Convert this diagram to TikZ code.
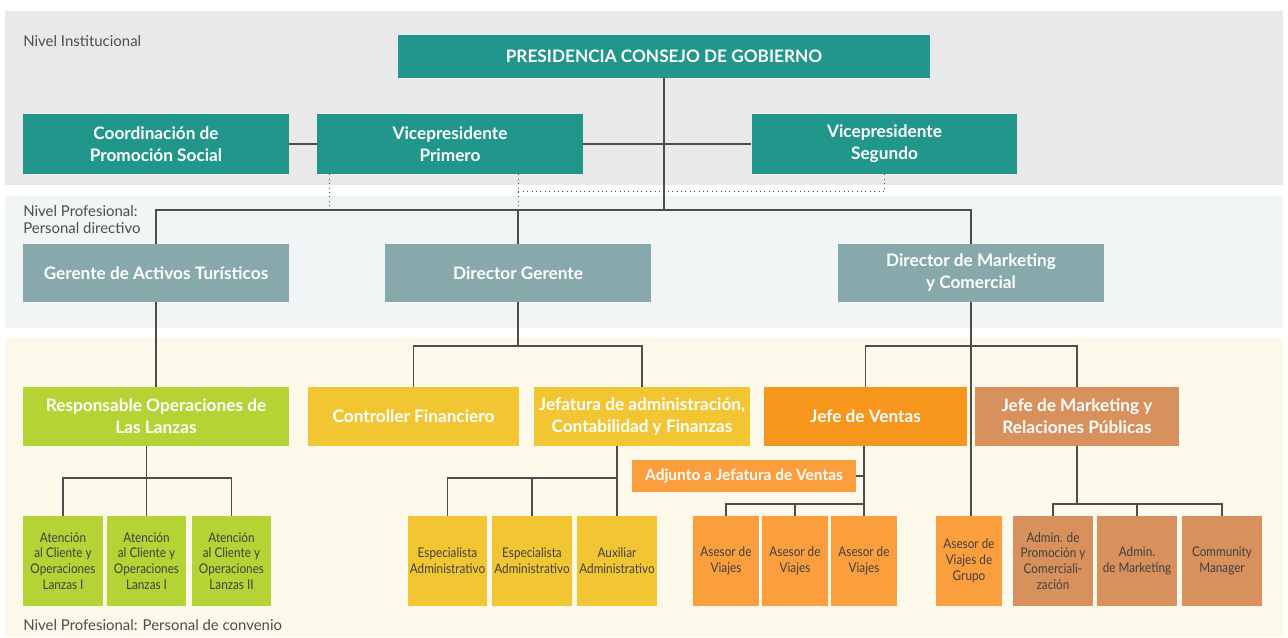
\documentclass[tikz,border=0pt]{standalone}
\usepackage{fontspec}
\setmainfont{Lato}
\newfontfamily\stafffont{Lato}[FakeStretch=0.88]
\usetikzlibrary{calc, positioning}

\definecolor{tealbox}{HTML}{21968B}
\definecolor{slatebox}{HTML}{87A9AC}
\definecolor{limebox}{HTML}{B5D334}
\definecolor{goldbox}{HTML}{F2C633}
\definecolor{orangebox}{HTML}{F7961D}
\definecolor{peachbox}{HTML}{FB9E3E}
\definecolor{claybox}{HTML}{D8915C}
\definecolor{grayband}{HTML}{E9E9E9}
\definecolor{blueband}{HTML}{F1F5F6}
\definecolor{creamband}{HTML}{FCF8EA}
\definecolor{linegray}{HTML}{4D4D4D}
\definecolor{stafftext}{HTML}{404040}

\begin{document}
\begin{tikzpicture}[x=0.02cm, y=-0.02cm,
        box/.style={rectangle, inner sep=0pt, align=center, text=white, font=\bfseries\fontsize{9.8}{12.5}\selectfont},
        inst/.style={box, fill=tealbox, minimum width=5.32cm, minimum height=1.2cm},
        dir/.style={box, fill=slatebox, minimum width=5.32cm, minimum height=1.16cm},
        head/.style={box, minimum height=1.18cm},
        staff/.style={rectangle, inner sep=0pt, align=center, text=stafftext, font=\stafffont\fontsize{7.6}{9}\selectfont, minimum height=1.8cm},
        tag/.style={inner sep=0pt, align=left, text=linegray, font=\fontsize{8.5}{9.5}\selectfont},
        link/.style={draw=linegray, line width=0.7pt},
        dots/.style={draw=linegray, line width=0.5pt, dotted}]
        \useasboundingbox (0,0) rectangle (1288,637);

        % bands
        \fill[grayband] (5,11) rectangle (1283,185);
        \fill[blueband] (5,196) rectangle (1283,328);
        \fill[creamband] (5,338) rectangle (1283,637);
        \node[tag, anchor=base west] (tinst) at (23,46) {Nivel Institucional};
        \node[tag, anchor=north west] (tdir) at (23,205) {Nivel Profesional:\\Personal directivo};
        \node[tag, anchor=base west] (tconv) at (23,630) {Nivel Profesional: Personal de convenio};

        % level 1
        \node[box, fill=tealbox, minimum width=10.64cm, minimum height=0.86cm] (pres) at (664,56.5) {PRESIDENCIA CONSEJO DE GOBIERNO};
        \node[inst] (coord) at (156,144) {Coordinación de\\Promoción Social};
        \node[inst] (vp1) at (450,144) {Vicepresidente\\Primero};
        \node[inst] (vp2) at (884.5,144) {Vicepresidente\\Segundo};

        % level 2
        \node[dir] (gerente) at (156,273) {Gerente de Activos Turísticos};
        \node[dir] (dirger) at (518,273) {Director Gerente};
        \node[dir] (dirmkt) at (971,273) {Director de Marketing\\y Comercial};

        % level 3
        \node[head, fill=limebox, minimum width=5.32cm] (resp) at (156,416.5) {Responsable Operaciones de\\Las Lanzas};
        \node[head, fill=goldbox, minimum width=4.22cm] (controller) at (413.5,416.5) {Controller Financiero};
        \node[head, fill=goldbox, minimum width=4.32cm] (jefatura) at (642,416.5) {Jefatura de administración,\\Contabilidad y Finanzas};
        \node[head, fill=orangebox, minimum width=4.06cm] (ventas) at (865.5,416.5) {Jefe de Ventas};
        \node[head, fill=claybox, minimum width=4.08cm] (jefemkt) at (1077,416.5) {Jefe de Marketing y\\Relaciones Públicas};
        \node[box, fill=peachbox, minimum width=4.48cm, minimum height=0.64cm, font=\bfseries\fontsize{8.8}{10}\selectfont] (adjunto) at (744,476) {Adjunto a Jefatura de Ventas};

        % staff
        \node[staff, fill=limebox, minimum width=1.6cm] (at1) at (63,561) {Atención\\al Cliente y\\Operaciones\\Lanzas I};
        \node[staff, fill=limebox, minimum width=1.6cm] (at2) at (146.5,561) {Atención\\al Cliente y\\Operaciones\\Lanzas I};
        \node[staff, fill=limebox, minimum width=1.6cm] (at3) at (231.5,561) {Atención\\al Cliente y\\Operaciones\\Lanzas II};
        \node[staff, fill=goldbox, minimum width=1.6cm] (esp1) at (447.5,561) {Especialista\\Administrativo};
        \node[staff, fill=goldbox, minimum width=1.6cm] (esp2) at (532,561) {Especialista\\Administrativo};
        \node[staff, fill=goldbox, minimum width=1.6cm] (aux) at (617,561) {Auxiliar\\Administrativo};
        \node[staff, fill=peachbox, minimum width=1.32cm] (as1) at (726,561) {Asesor de\\Viajes};
        \node[staff, fill=peachbox, minimum width=1.32cm] (as2) at (795,561) {Asesor de\\Viajes};
        \node[staff, fill=peachbox, minimum width=1.32cm] (as3) at (864,561) {Asesor de\\Viajes};
        \node[staff, fill=peachbox, minimum width=1.32cm] (grupo) at (969,561) {Asesor de\\Viajes de\\Grupo};
        \node[staff, fill=claybox, minimum width=1.6cm] (admprom) at (1053,561) {Admin. de\\Promoción y\\Comerciali-\\zación};
        \node[staff, fill=claybox, minimum width=1.6cm] (admmkt) at (1137,561) {Admin.\\de Marketing};
        \node[staff, fill=claybox, minimum width=1.6cm] (comm) at (1222,561) {Community\\Manager};

        % level 1 links
        \draw[link] (coord) -- (vp1);
        \draw[link] (vp1) -- (vp2);
        \coordinate (bus2) at (pres |- 0,210);
        \draw[link] (pres.south) -- (bus2);

        % level 1 to level 2
        \draw[link] (gerente.north) |- (bus2) -| (dirmkt.north);
        \draw[link] (dirger.north) -- (dirger |- bus2);
        \coordinate (vp1tap) at ($(vp1.south west)+(13,0)$);
        \draw[dots] (vp1tap) -- (vp1tap |- bus2);
        \draw[dots] (vp1.south -| dirger) -- (dirger |- bus2);
        \draw[dots] (vp2.south) |- ($(vp1.south -| dirger)+(0,17)$);

        % level 2 to level 3
        \coordinate (bus3) at (dirger |- 0,346);
        \draw[link] (gerente.south) -- (resp.north);
        \draw[link] (dirger.south) -- (bus3);
        \draw[link] (controller.north) |- (bus3) -| (jefatura.north);
        \draw[link] (dirmkt.south) -- (dirmkt.south |- grupo.north);
        \draw[link] (ventas.north) |- (dirmkt |- bus3) -| (jefemkt.north);

        % level 3 to staff
        \coordinate (bus4) at (at2 |- 0,478);
        \draw[link] (resp.south -| at2) -- (at2.north);
        \draw[link] (at1.north) |- (bus4) -| (at3.north);
        \draw[link] (aux.north) -- (aux |- jefatura.south);
        \draw[link] (esp1.north) |- (aux |- bus4);
        \draw[link] (esp2.north) -- (esp2 |- bus4);
        \coordinate (bus5) at (as3 |- 0,504);
        \draw[link] (as3.north) -- (as3 |- ventas.south);
        \draw[link] (adjunto.east) -- (adjunto.east -| as3);
        \draw[link] (as1.north) |- (bus5);
        \draw[link] (as2.north) -- (as2 |- bus5);
        \draw[link] (jefemkt.south) -- (jefemkt |- bus5);
        \draw[link] (admprom.north) |- (jefemkt |- bus5) -| (comm.north);
        \draw[link] (admmkt.north) -- (admmkt |- bus5);

    \end{tikzpicture}
\end{document}
